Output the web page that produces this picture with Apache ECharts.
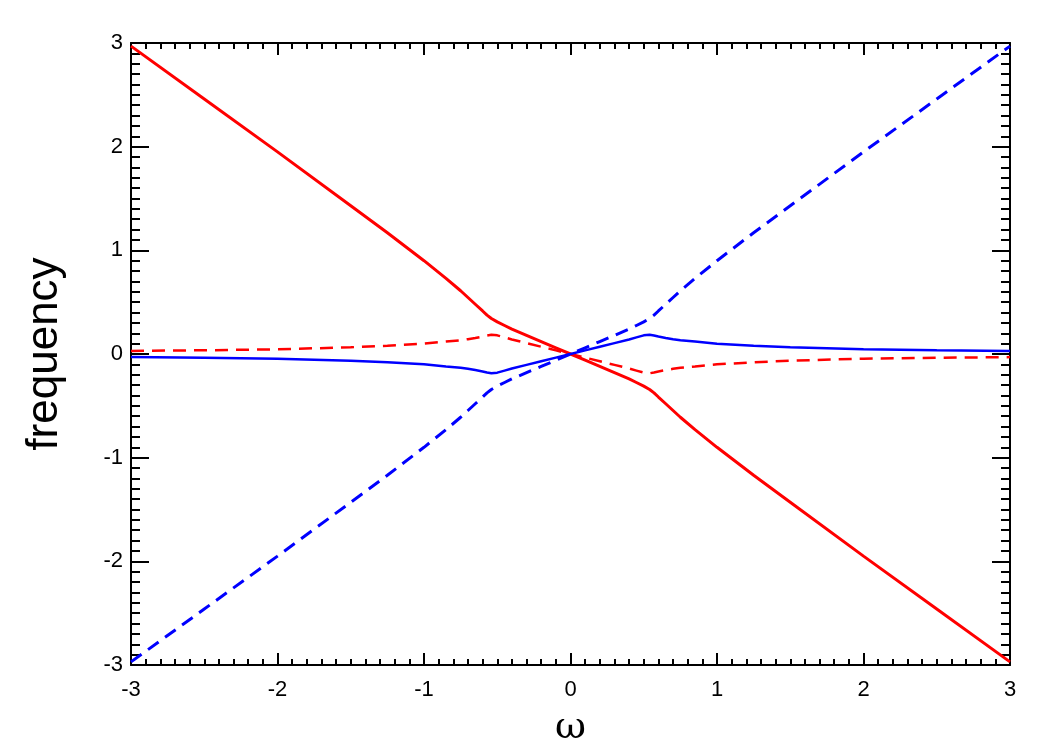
<!DOCTYPE html>
<html>
<head>
<meta charset="utf-8">
<title>frequency vs omega</title>
<script src="https://cdn.jsdelivr.net/npm/echarts@6/dist/echarts.min.js"></script>
<style>
  html, body { margin: 0; padding: 0; background: #fff; }
  #chart { width: 1050px; height: 750px; }
</style>
</head>
<body>
<div id="chart"></div>
<script>
"use strict";

/* ── 数据 ── */
const omega = [-3, -2.5, -2, -1.5, -1.25, -1, -0.85, -0.75, -0.7, -0.65, -0.6, -0.57, -0.54, -0.5, -0.45, -0.4, -0.3, -0.2, -0.1, 0,
               0.1, 0.2, 0.3, 0.4, 0.45, 0.5, 0.54, 0.57, 0.6, 0.65, 0.7, 0.75, 0.85, 1, 1.25, 1.5, 2, 2.5, 3];

const redSolid  = [2.97, 2.46, 1.95, 1.43, 1.17, 0.90, 0.73, 0.61, 0.545, 0.48, 0.415, 0.375, 0.342, 0.31, 0.275, 0.24, 0.18, 0.12, 0.06, 0,
                   -0.06, -0.12, -0.18, -0.24, -0.275, -0.31, -0.342, -0.375, -0.415, -0.48, -0.545, -0.61, -0.73, -0.90, -1.17, -1.43, -1.95, -2.46, -2.97];
const redDash   = [0.03, 0.036, 0.045, 0.065, 0.08, 0.10, 0.12, 0.133, 0.143, 0.155, 0.168, 0.178, 0.186, 0.18, 0.16, 0.14, 0.105, 0.07, 0.035, 0,
                   -0.035, -0.07, -0.105, -0.14, -0.16, -0.18, -0.186, -0.178, -0.168, -0.155, -0.143, -0.133, -0.12, -0.10, -0.08, -0.065, -0.045, -0.036, -0.03];
const blueSolid = [-0.03, -0.036, -0.045, -0.065, -0.08, -0.10, -0.12, -0.133, -0.143, -0.155, -0.168, -0.178, -0.186, -0.18, -0.16, -0.14, -0.105, -0.07, -0.035, 0,
                   0.035, 0.07, 0.105, 0.14, 0.16, 0.18, 0.186, 0.178, 0.168, 0.155, 0.143, 0.133, 0.12, 0.10, 0.08, 0.065, 0.045, 0.036, 0.03];
const blueDash  = [-2.97, -2.46, -1.95, -1.43, -1.17, -0.90, -0.73, -0.61, -0.545, -0.48, -0.415, -0.375, -0.342, -0.31, -0.275, -0.24, -0.18, -0.12, -0.06, 0,
                   0.06, 0.12, 0.18, 0.24, 0.275, 0.31, 0.342, 0.375, 0.415, 0.48, 0.545, 0.61, 0.73, 0.90, 1.17, 1.43, 1.95, 2.46, 2.97];

const tickVals = [-3, -2, -1, 0, 1, 2, 3];

const pairs = arr => omega.map((w, i) => [w, arr[i]]);

const FONT = "'Liberation Sans', Arial, Helvetica, sans-serif";

function makeAxis(opts) {
  return Object.assign({
    type: "value", min: tickVals[0], max: tickVals[tickVals.length - 1], interval: 1,
    axisLine: { show: true, onZero: false, lineStyle: { color: "#000", width: 2 } },
    axisTick: { show: true, inside: true, length: 12, lineStyle: { color: "#000", width: 2 } },
    minorTick: { show: true, splitNumber: 10, length: 6, lineStyle: { color: "#000", width: 2 } },
    splitLine: { show: false },
    axisLabel: { show: true, color: "#000", fontSize: 22, fontFamily: FONT, margin: 14 }
  }, opts);
}

const chart = echarts.init(document.getElementById("chart"));
chart.setOption({
  backgroundColor: "#fff",
  animation: false,
  grid: { left: 131, right: 40, top: 43, bottom: 85, outerBoundsMode: "none", containLabel: false },
  xAxis: [
    makeAxis({
      position: "bottom",
      name: "ω", nameLocation: "middle", nameGap: 44,
      nameTextStyle: { fontSize: 38, fontFamily: "'DejaVu Serif', 'Liberation Serif', serif", color: "#000" }
    }),
    makeAxis({ position: "top", axisLabel: { show: false } })
  ],
  yAxis: [
    makeAxis({
      position: "left",
      axisTick: { show: true, inside: true, length: 18, lineStyle: { color: "#000", width: 2 } },
      minorTick: { show: true, splitNumber: 10, length: 9, lineStyle: { color: "#000", width: 2 } },
      axisLabel: { show: true, color: "#000", fontSize: 22, fontFamily: FONT, margin: 8 },
      name: "frequency", nameLocation: "middle", nameGap: 64, nameRotate: 90,
      nameTextStyle: { fontSize: 44, fontFamily: FONT, color: "#000" }
    }),
    makeAxis({
      position: "right",
      axisTick: { show: true, inside: true, length: 18, lineStyle: { color: "#000", width: 2 } },
      minorTick: { show: true, splitNumber: 10, length: 9, lineStyle: { color: "#000", width: 2 } },
      axisLabel: { show: false }
    })
  ],
  series: [
    { type: "line", data: pairs(redSolid), showSymbol: false,
      lineStyle: { color: "#ff0000", width: 3 } },
    { type: "line", data: pairs(redDash), showSymbol: false,
      lineStyle: { color: "#ff0000", width: 2.5, type: [13, 8] } },
    { type: "line", data: pairs(blueSolid), showSymbol: false,
      lineStyle: { color: "#0000ff", width: 2.5 } },
    { type: "line", data: pairs(blueDash), showSymbol: false,
      lineStyle: { color: "#0000ff", width: 3, type: [13, 8] } }
  ]
});
</script>
</body>
</html>
